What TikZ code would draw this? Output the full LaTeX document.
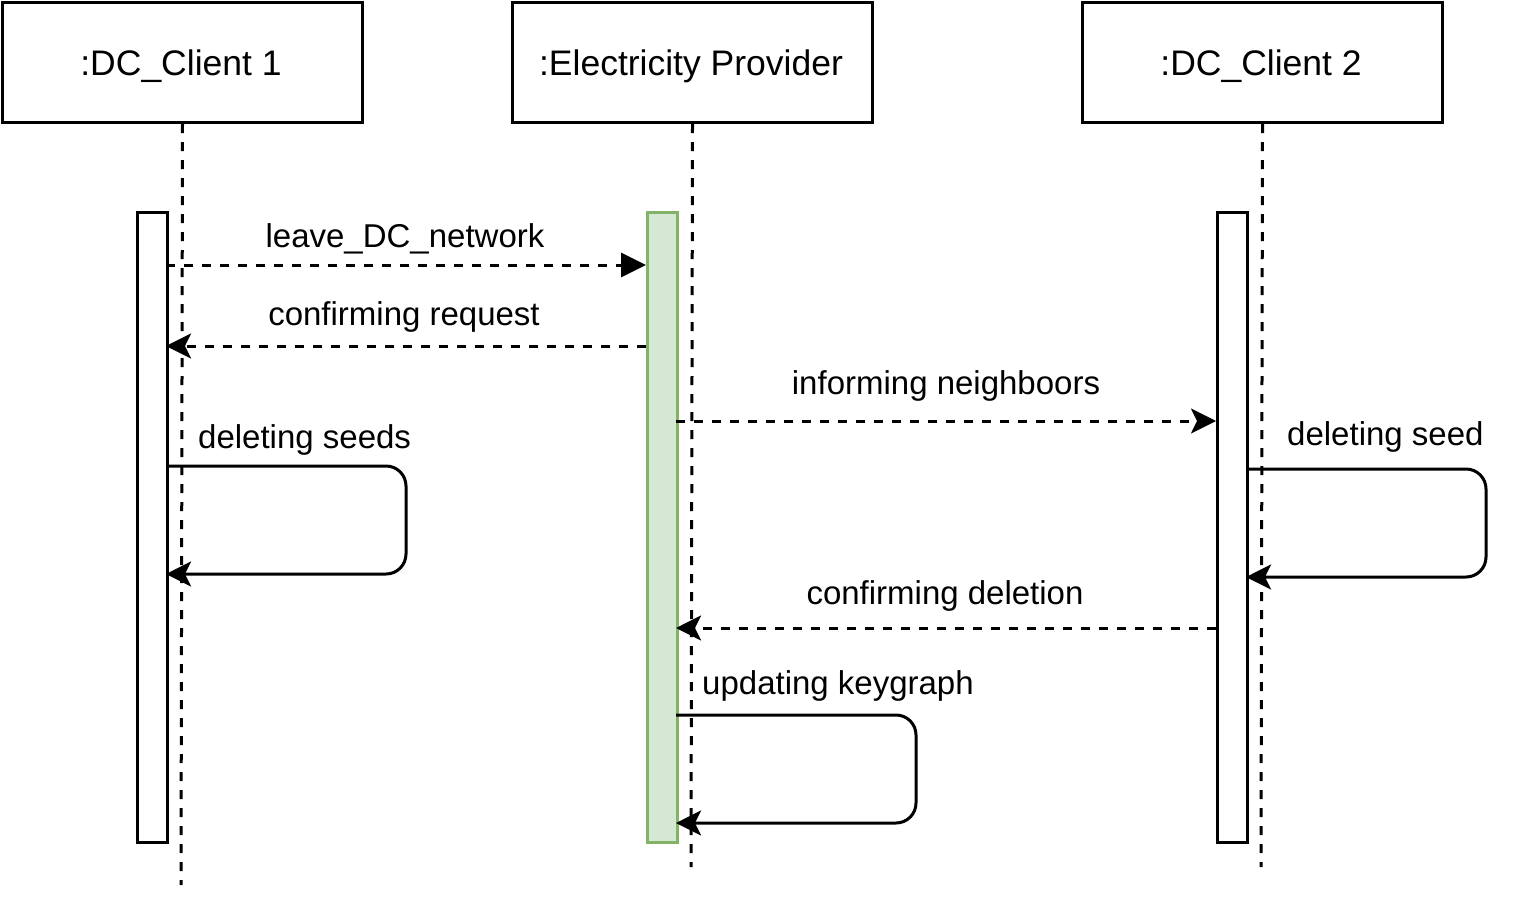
\documentclass[tikz,border=0pt]{standalone}
\usepackage{fontspec}
\setmainfont{Liberation Sans}
\usetikzlibrary{arrows.meta}
\definecolor{actgreen}{HTML}{D5E8D4}
\definecolor{actborder}{HTML}{82B366}
\begin{document}
\begin{tikzpicture}[x=1pt,y=-1pt,
  font=\fontsize{33}{40}\selectfont,
  header/.style={draw,line width=3pt,minimum width=360pt,minimum height=120pt,inner sep=0pt,anchor=north west},
  hdrtext/.style={inner sep=0pt,anchor=base,font=\fontsize{35.5}{42}\selectfont},
  actbox/.style={draw,line width=3pt,fill=white,minimum width=30pt,minimum height=630pt,inner sep=0pt,anchor=north west},
  lifeline/.style={line width=3pt,dash pattern=on 9pt off 9pt},
  msg/.style={line width=3pt,dash pattern=on 9pt off 9pt},
  selfmsg/.style={line width=3pt,rounded corners=20pt},
  lbl/.style={inner sep=0pt,anchor=base},
  lblw/.style={inner sep=0pt,anchor=base west},
  classic/.style={-{Stealth[length=25pt,width=25pt,inset=6pt]}},
  block/.style={-{Triangle[length=25pt,width=24pt]}}
]
\useasboundingbox (0,0) rectangle (1530,897);
% headers
\node[header] (c1) at (1,1) {};
\node[header] (ep) at (511,1) {};
\node[header] (c2) at (1081,1) {};
\node[hdrtext] (c1t) at (181,75) {:DC\_Client 1};
\node[hdrtext] (ept) at (691,75) {:Electricity Provider};
\node[hdrtext] (c2t) at (1261,75) {:DC\_Client 2};
% lifeline ends
\coordinate (c1end) at (181,885);
\coordinate (epend) at (691,867);
\coordinate (c2end) at (1261,867);
\draw[lifeline] (c1.south) -- (c1end);
\draw[lifeline] (ep.south) -- (epend);
\draw[lifeline] (c2.south) -- (c2end);
% activation boxes
\node[actbox] (a1) at (136,211) {};
\node[actbox,draw=actborder,fill=actgreen] (a2) at (646,211) {};
\node[actbox] (a3) at (1216,211) {};
% message points
\coordinate (m1s) at (166,265);
\coordinate (m1e) at (646,265);
\coordinate (m2s) at (646,346);
\coordinate (m2e) at (166,346);
\coordinate (m3s) at (676,421);
\coordinate (m3e) at (1216,421);
\coordinate (s1s) at (166,466);
\coordinate (s1a) at (406,466);
\coordinate (s1b) at (406,574);
\coordinate (s1e) at (166,574);
\coordinate (s2s) at (1246,469);
\coordinate (s2a) at (1486,469);
\coordinate (s2b) at (1486,577);
\coordinate (s2e) at (1246,577);
\coordinate (m4s) at (1216,628);
\coordinate (m4e) at (676,628);
\coordinate (s3s) at (676,715);
\coordinate (s3a) at (916,715);
\coordinate (s3b) at (916,823);
\coordinate (s3e) at (676,823);
% messages
\draw[msg,block] (m1s) -- (m1e);
\draw[msg,classic] (m2s) -- (m2e);
\draw[msg,classic] (m3s) -- (m3e);
\draw[selfmsg,classic] (s1s) -- (s1a) -- (s1b) -- (s1e);
\draw[selfmsg,classic] (s2s) -- (s2a) -- (s2b) -- (s2e);
\draw[msg,classic] (m4s) -- (m4e);
\draw[selfmsg,classic] (s3s) -- (s3a) -- (s3b) -- (s3e);
% labels
\node[lbl] (l1) at (405,247) {leave\_DC\_network};
\node[lbl] (l2) at (404,325) {confirming request};
\node[lbl] (l3) at (946,394) {informing neighboors};
\node[lblw] (l4) at (198,448) {deleting seeds};
\node[lblw] (l5) at (1287,445) {deleting seed};
\node[lbl] (l6) at (945,604) {confirming deletion};
\node[lblw] (l7) at (702,694) {updating keygraph};
\end{tikzpicture}
\end{document}
